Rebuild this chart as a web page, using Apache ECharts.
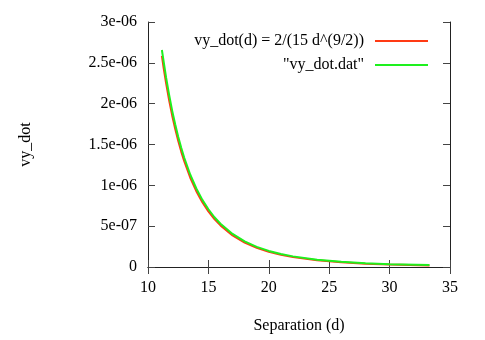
<!DOCTYPE html>
<html>
<head>
<meta charset="utf-8">
<script src="https://cdn.jsdelivr.net/npm/echarts@6/dist/echarts.min.js"></script>
<style>html,body{margin:0;padding:0;background:#fff;}#c{width:485px;height:340px;}</style>
</head>
<body>
<div id="c"></div>
<script>
var separation = [11.15, 11.3, 11.5, 11.75, 12, 12.25, 12.5, 12.75, 13, 13.5, 14, 14.5, 15, 15.5, 16, 17, 18, 19, 20, 21, 22, 24, 26, 28, 30, 33.3];
var vyFunction = [2.584e-6, 2.433e-6, 2.248e-6, 2.041e-6, 1.856e-6, 1.692e-6, 1.545e-6, 1.413e-6, 1.295e-6, 1.093e-6, 9.28e-7, 7.92e-7, 6.80e-7, 5.87e-7, 5.09e-7, 3.87e-7, 2.99e-7, 2.35e-7, 1.86e-7, 1.50e-7, 1.21e-7, 8.2e-8, 5.7e-8, 4.1e-8, 3.0e-8, 1.9e-8];
var vyData = [2.657e-6, 2.511e-6, 2.318e-6, 2.107e-6, 1.915e-6, 1.747e-6, 1.595e-6, 1.460e-6, 1.338e-6, 1.130e-6, 9.61e-7, 8.22e-7, 7.07e-7, 6.09e-7, 5.30e-7, 4.05e-7, 3.14e-7, 2.47e-7, 1.97e-7, 1.59e-7, 1.30e-7, 8.9e-8, 6.3e-8, 4.6e-8, 3.5e-8, 2.3e-8];
var xTickLabels = ['10', '15', '20', '25', '30', '35'];
var yTickLabels = ['0', '5e-07', '1e-06', '1.5e-06', '2e-06', '2.5e-06', '3e-06'];
var seriesNames = ['vy_dot(d) = 2/(15 d^(9/2))', '"vy_dot.dat"'];
var xName = 'Separation (d)';
var yName = 'vy_dot';

var FONT = 'Liberation Serif';
var FS = 16;
function pairs(xs, ys) { return xs.map(function (x, i) { return [x, ys[i]]; }); }

var chart = echarts.init(document.getElementById('c'), null, {renderer: 'canvas'});
var tickStyle = {show: true, inside: true, length: 7, lineStyle: {color: '#444', width: 1}};
var lineStyle = {show: true, lineStyle: {color: '#222', width: 1}};
chart.setOption({
  animation: false,
  backgroundColor: '#fff',
  grid: {left: 148, right: 35, top: 22, bottom: 73, containLabel: false},
  legend: [
    {
      data: [seriesNames[0]], right: 57, top: 33, align: 'right', orient: 'vertical',
      itemWidth: 53, itemHeight: 2, icon: 'rect', padding: 0,
      textStyle: {fontFamily: FONT, fontSize: FS, color: '#000', padding: [0, 6, 0, 0]}
    },
    {
      data: [seriesNames[1]], right: 57, top: 57, align: 'right', orient: 'vertical',
      itemWidth: 53, itemHeight: 2, icon: 'rect', padding: 0,
      textStyle: {fontFamily: FONT, fontSize: FS, color: '#000', padding: [0, 6, 0, 0]}
    }
  ],
  xAxis: [
    {
      type: 'value', min: 10, max: 35, interval: 5, position: 'bottom',
      axisLine: lineStyle, axisTick: tickStyle, splitLine: {show: false},
      axisLabel: {
        margin: 13, fontFamily: FONT, fontSize: FS, color: '#000',
        formatter: function (v) { return xTickLabels[Math.round((v - 10) / 5)]; }
      },
      name: xName, nameLocation: 'middle', nameGap: 51,
      nameTextStyle: {fontFamily: FONT, fontSize: FS, color: '#000'}
    },
    {
      type: 'value', min: 10, max: 35, interval: 5, position: 'top',
      axisLine: lineStyle, axisTick: tickStyle, splitLine: {show: false},
      axisLabel: {show: false}
    }
  ],
  yAxis: [
    {
      type: 'value', min: 0, max: 3e-6, interval: 5e-7, position: 'left',
      axisLine: lineStyle, axisTick: tickStyle, splitLine: {show: false},
      axisLabel: {
        margin: 11, fontFamily: FONT, fontSize: FS, color: '#000',
        formatter: function (v) { return yTickLabels[Math.round(v / 5e-7)]; }
      },
      name: yName, nameLocation: 'middle', nameGap: 114, nameRotate: 90,
      nameTextStyle: {fontFamily: FONT, fontSize: FS, color: '#000'}
    },
    {
      type: 'value', min: 0, max: 3e-6, interval: 5e-7, position: 'right',
      axisLine: lineStyle, axisTick: tickStyle, splitLine: {show: false},
      axisLabel: {show: false}
    }
  ],
  series: [
    {
      name: seriesNames[0], type: 'line', xAxisIndex: 0, yAxisIndex: 0,
      data: pairs(separation, vyFunction), showSymbol: false, smooth: false,
      lineStyle: {color: '#ff3a14', width: 2}, itemStyle: {color: '#ff3a14'}
    },
    {
      name: seriesNames[1], type: 'line', xAxisIndex: 0, yAxisIndex: 0,
      data: pairs(separation, vyData), showSymbol: false, smooth: false,
      lineStyle: {color: '#1ef01e', width: 2}, itemStyle: {color: '#1ef01e'}
    }
  ]
});
</script>
</body>
</html>
